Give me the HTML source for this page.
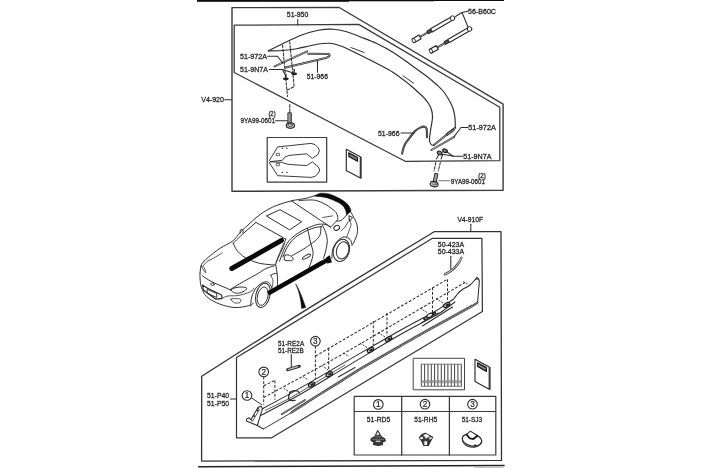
<!DOCTYPE html>
<html><head><meta charset="utf-8"><title>Parts diagram</title>
<style>
html,body{margin:0;padding:0;background:#fff;}
body{width:702px;height:468px;overflow:hidden;}
svg{display:block;font-family:"Liberation Sans",sans-serif;filter:grayscale(1) blur(0.35px);}
</style></head><body>
<svg width="702" height="468" viewBox="0 0 702 468" stroke-linecap="round" stroke-linejoin="round">
<rect width="702" height="468" fill="#fff"/>
<rect x="197" y="0" width="152" height="1.8" fill="#0c0c0c"/>
<rect x="349" y="0" width="85" height="1.3" fill="#0c0c0c"/>
<rect x="434" y="0" width="70" height="1.0" fill="#0c0c0c"/>
<line x1="198.2" y1="466.7" x2="504.6" y2="465.5" stroke="#222" stroke-width="1.4" stroke-linecap="butt"/>
<rect x="474" y="467.3" width="29" height="0.7" fill="#aaa"/>
<path d="M232.0,7.6 L339.2,7.5 L503.1,104.2 L503.1,190.2 L232.0,191.3Z" fill="none" stroke="#3a3a3a" stroke-width="1.4" />
<path d="M234.2,25.2 L358.7,24.4 L499.8,107.2 L499.8,160.7 L405.2,161.3 L234.2,72.5Z" fill="none" stroke="#3a3a3a" stroke-width="1.26" />
<text x="286.8" y="16.9" font-size="7.6" textLength="21.5" lengthAdjust="spacingAndGlyphs" fill="#222" stroke="#222" stroke-width="0.28" >51-950</text>
<line x1="297.7" y1="19.5" x2="297.7" y2="24.8" stroke="#2b2b2b" stroke-width="1.03" />
<text x="201.2" y="102.2" font-size="7.6" textLength="22.8" lengthAdjust="spacingAndGlyphs" fill="#222" stroke="#222" stroke-width="0.28" >V4-920</text>
<line x1="224.6" y1="99.8" x2="231.5" y2="99.8" stroke="#2b2b2b" stroke-width="1.03" />
<text x="240.1" y="58.7" font-size="7.6" textLength="26.9" lengthAdjust="spacingAndGlyphs" fill="#222" stroke="#222" stroke-width="0.28" >51-972A</text>
<text x="240.1" y="71.7" font-size="7.6" textLength="27.8" lengthAdjust="spacingAndGlyphs" fill="#222" stroke="#222" stroke-width="0.28" >51-9N7A</text>
<text x="306.7" y="78.6" font-size="7.6" textLength="21.3" lengthAdjust="spacingAndGlyphs" fill="#222" stroke="#222" stroke-width="0.28" >51-966</text>
<text x="468.0" y="13.6" font-size="7.6" textLength="28.0" lengthAdjust="spacingAndGlyphs" fill="#222" stroke="#222" stroke-width="0.28" >56-B60C</text>
<text x="240.6" y="123.2" font-size="7.6" textLength="34.4" lengthAdjust="spacingAndGlyphs" fill="#222" stroke="#222" stroke-width="0.28" >9YA99-0601</text>
<text x="268.4" y="116.3" font-size="7" textLength="7.2" lengthAdjust="spacingAndGlyphs" fill="#222" stroke="#222" stroke-width="0.28" >(2)</text>
<text x="378.0" y="135.6" font-size="7.6" textLength="21.5" lengthAdjust="spacingAndGlyphs" fill="#222" stroke="#222" stroke-width="0.28" >51-966</text>
<text x="468.3" y="130.1" font-size="7.6" textLength="27.5" lengthAdjust="spacingAndGlyphs" fill="#222" stroke="#222" stroke-width="0.28" >51-972A</text>
<text x="463.3" y="158.6" font-size="7.6" textLength="28.2" lengthAdjust="spacingAndGlyphs" fill="#222" stroke="#222" stroke-width="0.28" >51-9N7A</text>
<text x="450.8" y="183.6" font-size="7.6" textLength="34.2" lengthAdjust="spacingAndGlyphs" fill="#222" stroke="#222" stroke-width="0.28" >9YA99-0601</text>
<text x="478.3" y="177.7" font-size="7" textLength="7.5" lengthAdjust="spacingAndGlyphs" fill="#222" stroke="#222" stroke-width="0.28" >(2)</text>
<path d="M268.3,50.8 C270.5,49.7 276.1,46.8 281.7,44.2 C287.3,41.6 295.6,37.3 301.7,35.0 C307.8,32.7 313.0,31.3 318.3,30.3 C323.6,29.3 328.6,29.0 333.3,29.2 C338.0,29.4 342.2,30.4 346.7,31.7 C351.1,33.0 355.0,34.7 360.0,36.7 C365.0,38.7 371.1,40.9 376.7,43.5 C382.2,46.1 387.8,49.0 393.3,52.5 C398.9,56.0 404.4,60.2 410.0,64.2 C415.6,68.2 422.2,72.9 426.7,76.3 C431.1,79.7 433.9,82.3 436.7,84.8 C439.5,87.3 441.3,88.8 443.5,91.5 C445.7,94.2 448.1,98.4 449.7,101.3 C451.3,104.2 452.3,106.2 453.2,109.0 C454.1,111.8 454.6,114.9 455.0,118.0 C455.4,121.1 455.2,126.2 455.3,127.8" fill="none" stroke="#2b2b2b" stroke-width="1.15" />
<path d="M268.3,51.0 C270.5,50.9 277.0,50.9 281.7,50.5 C286.4,50.1 292.0,49.5 296.7,48.7 C301.4,47.9 306.1,46.6 310.0,45.8 C313.9,45.0 316.7,44.2 320.0,43.8 C323.3,43.4 326.7,43.0 330.0,43.3 C333.3,43.6 336.1,44.4 340.0,45.8 C343.9,47.2 348.9,49.6 353.3,51.7 C357.8,53.8 362.8,56.3 366.7,58.3 C370.6,60.3 372.6,61.1 377.0,63.5 C381.4,65.9 387.8,68.9 393.3,72.5 C398.8,76.1 405.8,81.7 410.0,85.0 C414.2,88.3 415.8,90.2 418.3,92.5 C420.8,94.8 423.0,96.4 425.0,98.8 C427.0,101.2 429.2,104.0 430.5,107.0 C431.8,110.0 432.5,112.9 432.5,116.7 C432.5,120.5 431.1,126.2 430.6,130.0 C430.1,133.8 429.3,137.4 429.4,139.8 C429.5,142.2 430.4,143.6 431.1,144.5 C431.8,145.4 433.3,145.2 433.7,145.3" fill="none" stroke="#2b2b2b" stroke-width="1.15" />
<line x1="433.7" y1="145.3" x2="455.2" y2="127.8" stroke="#333" stroke-width="2.0" />
<line x1="434.5" y1="144.8" x2="454.6" y2="128.4" stroke="#bbb" stroke-width="0.8" stroke-dasharray="0.8 0.8"/>
<path d="M446.5,133.4 L453.3,128.6 L454.3,130.4 L447.5,135.4Z" fill="none" stroke="#2b2b2b" stroke-width="0.92" />
<line x1="350.8" y1="47.5" x2="364.2" y2="52.5" stroke="#2b2b2b" stroke-width="0.92" />
<line x1="403.0" y1="75.8" x2="413.7" y2="83.3" stroke="#2b2b2b" stroke-width="0.92" />
<line x1="274.5" y1="66.3" x2="307.2" y2="51.4" stroke="#333" stroke-width="2.0" />
<line x1="275.0" y1="66.0" x2="306.8" y2="51.6" stroke="#ccc" stroke-width="0.8" stroke-dasharray="0.9 0.9"/>
<path d="M285.8,67.6 L324.5,58.2 Q331.5,56.2 328.8,54 L308.3,53.8" fill="none" stroke="#262626" stroke-width="2.1" />
<path d="M285.8,67.6 L324.5,58.2 Q331.5,56.2 328.8,54 L308.3,53.8" fill="none" stroke="#ddd" stroke-width="0.6" />
<line x1="282.5" y1="45.0" x2="287.5" y2="96.5" stroke="#2b2b2b" stroke-width="1.03" stroke-dasharray="2.6 1.6"/>
<line x1="289.7" y1="41.7" x2="294.2" y2="86.7" stroke="#2b2b2b" stroke-width="1.03" stroke-dasharray="2.6 1.6"/>
<line x1="287.3" y1="90.0" x2="294.2" y2="86.7" stroke="#2b2b2b" stroke-width="1.03" stroke-dasharray="2.6 1.6"/>
<ellipse cx="285.8" cy="78.8" rx="3.0" ry="1.4" fill="#1a1a1a"/>
<line x1="285.8" y1="74.3" x2="285.8" y2="78.3" stroke="#2b2b2b" stroke-width="1.3" />
<ellipse cx="294.2" cy="73.8" rx="3.0" ry="1.4" fill="#1a1a1a"/>
<line x1="294.2" y1="69.3" x2="294.2" y2="73.3" stroke="#2b2b2b" stroke-width="1.3" />
<path d="M267.6,56.2 L277.5,56.2 L282.5,62.8" fill="none" stroke="#2b2b2b" stroke-width="1.03" />
<path d="M269.3,69.4 L282.5,69.4 L286.0,76.5" fill="none" stroke="#2b2b2b" stroke-width="1.03" />
<line x1="282.5" y1="69.4" x2="292.5" y2="72.8" stroke="#2b2b2b" stroke-width="1.03" />
<line x1="317.5" y1="60.8" x2="317.5" y2="72.3" stroke="#2b2b2b" stroke-width="1.03" />
<line x1="289.8" y1="104.5" x2="289.8" y2="112.2" stroke="#2b2b2b" stroke-width="1.03" stroke-dasharray="3 1.5"/>
<rect x="288.3" y="112.8" width="3" height="10.5" fill="#999" stroke="#2b2b2b" stroke-width="1.0"/>
<ellipse cx="290.4" cy="125.6" rx="4.1" ry="2.7" fill="#ddd" stroke="#2b2b2b" stroke-width="1.2"/>
<ellipse cx="290.2" cy="125.3" rx="2.2" ry="1.3" fill="none" stroke="#2b2b2b" stroke-width="0.8"/>
<line x1="275.5" y1="120.8" x2="287.8" y2="120.8" stroke="#2b2b2b" stroke-width="1.03" />
<line x1="431.5" y1="150.0" x2="454.2" y2="136.8" stroke="#333" stroke-width="2.0" />
<line x1="432.0" y1="149.7" x2="453.8" y2="137.0" stroke="#ccc" stroke-width="0.8" stroke-dasharray="0.9 0.9"/>
<path d="M402.1,153.6 C402.5,152.2 403.2,147.8 404.6,145.1 C406.0,142.3 408.4,139.4 410.2,137.1 C412.0,134.8 413.5,132.7 415.2,131.1 C416.9,129.5 418.6,128.3 420.2,127.6 C421.8,126.9 423.6,126.5 424.7,126.7 C425.8,126.9 426.2,127.1 426.6,128.8 C427.0,130.5 426.9,135.7 427.0,137.1" fill="none" stroke="#262626" stroke-width="2.1" />
<path d="M402.1,153.6 C402.5,152.2 403.2,147.8 404.6,145.1 C406.0,142.3 408.4,139.4 410.2,137.1 C412.0,134.8 413.5,132.7 415.2,131.1 C416.9,129.5 418.6,128.3 420.2,127.6 C421.8,126.9 423.6,126.5 424.7,126.7 C425.8,126.9 426.2,127.1 426.6,128.8 C427.0,130.5 426.9,135.7 427.0,137.1" fill="none" stroke="#bbb" stroke-width="0.5" />
<line x1="401.0" y1="133.0" x2="414.0" y2="133.0" stroke="#2b2b2b" stroke-width="1.03" />
<path d="M468.0,127.5 L461.0,127.5 L454.2,136.4" fill="none" stroke="#2b2b2b" stroke-width="1.03" />
<ellipse cx="439.7" cy="153.0" rx="2.5" ry="1.7" transform="rotate(25 439.7 153.0)" fill="#888" stroke="#1a1a1a" stroke-width="1.1"/>
<ellipse cx="445.0" cy="150.8" rx="2.5" ry="1.7" transform="rotate(25 445.0 150.8)" fill="#888" stroke="#1a1a1a" stroke-width="1.1"/>
<path d="M463.0,156.2 L453.3,156.2 L446.0,151.5" fill="none" stroke="#2b2b2b" stroke-width="1.03" />
<line x1="453.3" y1="156.2" x2="441.0" y2="154.0" stroke="#2b2b2b" stroke-width="1.03" />
<line x1="438.5" y1="155.0" x2="436.5" y2="159.0" stroke="#2b2b2b" stroke-width="1.03" />
<line x1="442.5" y1="155.0" x2="441.0" y2="159.0" stroke="#2b2b2b" stroke-width="1.03" />
<line x1="435.8" y1="162.5" x2="434.0" y2="171.0" stroke="#2b2b2b" stroke-width="1.03" stroke-dasharray="2.6 1.6"/>
<line x1="440.3" y1="162.5" x2="438.3" y2="171.0" stroke="#2b2b2b" stroke-width="1.03" stroke-dasharray="2.6 1.6"/>
<g transform="rotate(12 435.5 178)"><rect x="434" y="173.5" width="3" height="9" fill="#aaa" stroke="#2b2b2b" stroke-width="1.0"/><ellipse cx="435.5" cy="184.3" rx="4" ry="2.6" fill="#ddd" stroke="#2b2b2b" stroke-width="1.2"/><ellipse cx="435.5" cy="184" rx="2" ry="1.2" fill="none" stroke="#2b2b2b" stroke-width="0.7"/></g>
<line x1="438.7" y1="180.8" x2="450.0" y2="180.8" stroke="#777" stroke-width="1.03" />
<line x1="419.6" y1="37.1" x2="429.3" y2="31.5" stroke="#333" stroke-width="2.0" />
<line x1="419.6" y1="37.1" x2="429.3" y2="31.5" stroke="#ccc" stroke-width="0.6" />
<path d="M412.1,39.0 L419.0,35.0 L421.1,38.7 L414.2,42.7Z" fill="#fff" stroke="#2b2b2b" stroke-width="1.26" />
<ellipse cx="413.7" cy="40.5" rx="1.5" ry="2.1" transform="rotate(-29.9 413.7 40.5)" fill="#fff" stroke="#2b2b2b" stroke-width="0.9"/>
<path d="M426.9,31.2 L430.7,29.0 L432.2,31.6 L428.4,33.8Z" fill="#555" stroke="#2b2b2b" stroke-width="1.03" />
<path d="M430.5,28.8 L451.5,16.8 L453.3,19.8 L432.3,31.9Z" fill="#fff" stroke="#2b2b2b" stroke-width="1.15" />
<ellipse cx="452.6" cy="18.2" rx="2.2" ry="2.4" fill="#fff" stroke="#2b2b2b" stroke-width="1.0"/>
<line x1="436.9" y1="47.6" x2="446.5" y2="42.2" stroke="#333" stroke-width="2.0" />
<line x1="436.9" y1="47.6" x2="446.5" y2="42.2" stroke="#ccc" stroke-width="0.6" />
<path d="M429.3,49.5 L436.2,45.6 L438.3,49.2 L431.4,53.2Z" fill="#fff" stroke="#2b2b2b" stroke-width="1.26" />
<ellipse cx="430.9" cy="51.0" rx="1.5" ry="2.1" transform="rotate(-29.7 430.9 51.0)" fill="#fff" stroke="#2b2b2b" stroke-width="0.9"/>
<path d="M444.1,41.8 L447.8,39.7 L449.3,42.3 L445.5,44.4Z" fill="#555" stroke="#2b2b2b" stroke-width="1.03" />
<path d="M447.7,39.5 L468.5,27.6 L470.3,30.6 L449.4,42.5Z" fill="#fff" stroke="#2b2b2b" stroke-width="1.15" />
<ellipse cx="469.6" cy="29.0" rx="2.2" ry="2.4" fill="#fff" stroke="#2b2b2b" stroke-width="1.0"/>
<path d="M468.0,11.2 L462.0,12.5 L455.5,16.5" fill="none" stroke="#2b2b2b" stroke-width="1.03" />
<line x1="462.0" y1="12.5" x2="468.0" y2="27.0" stroke="#2b2b2b" stroke-width="1.03" />
<rect x="267.2" y="137.5" width="59.5" height="44.6" fill="none" stroke="#3a3a3a" stroke-width="1.2"/>
<path d="M269.6,160.0 L277.7,146.9 L311.1,143.4 L315.0,144.6 L318.2,147.8 L319.4,150.8 L318.0,154.5 L312.3,158.4 L306.5,153.8 L289.2,155.4 L285.0,157.0 L282.3,160.3 L270.7,161.6Z" fill="none" stroke="#2b2b2b" stroke-width="0.92" />
<path d="M269.6,163.1 L277.7,175.7 L311.1,177.4 L315.0,176.4 L318.4,173.2 L319.8,170.0 L318.0,166.5 L312.3,161.9 L306.5,165.6 L289.2,164.4 L285.0,163.6 L282.3,162.4 L270.7,161.8Z" fill="none" stroke="#2b2b2b" stroke-width="0.92" />
<circle cx="282.3" cy="148.2" r="0.7" fill="#222"/>
<circle cx="286.9" cy="148.2" r="0.7" fill="#222"/>
<circle cx="282.3" cy="172.4" r="0.7" fill="#222"/>
<circle cx="286.9" cy="172.4" r="0.7" fill="#222"/>
<rect x="276.6" y="153.3" width="2.8" height="2.4" fill="none" stroke="#2b2b2b" stroke-width="0.7"/>
<rect x="276.6" y="163.4" width="2.8" height="2.4" fill="none" stroke="#2b2b2b" stroke-width="0.7"/>
<path d="M346.3,149.2 L360.3,156.7 L360.3,177.9 L346.3,170.4Z" fill="none" stroke="#2b2b2b" stroke-width="1.15" />
<line x1="361.1" y1="157.2" x2="361.1" y2="178.2" stroke="#2b2b2b" stroke-width="1.15" />
<path d="M348.8,152.7 L357.5,157.4 L357.5,161.2 L348.8,156.5Z" fill="#555" stroke="#1a1a1a" stroke-width="1.15" />
<line x1="349.8" y1="155.2" x2="356.5" y2="158.8" stroke="#ddd" stroke-width="0.5" />
<path d="M200.0,273.3 C200.2,272.1 200.4,267.9 201.0,266.0 C201.6,264.1 202.1,263.4 203.3,262.0 C204.5,260.6 205.5,259.6 208.3,257.3 C211.1,255.0 215.9,251.0 220.0,248.3 C224.1,245.6 229.3,243.7 232.7,241.0 C236.1,238.3 237.4,235.3 240.4,232.2 C243.4,229.1 247.0,225.8 250.6,222.6 C254.2,219.4 257.9,215.8 262.2,213.0 C266.5,210.2 271.4,207.5 276.3,205.5 C281.2,203.5 286.9,202.0 291.7,200.8 C296.5,199.6 301.2,199.3 305.0,198.5 C308.8,197.7 312.7,196.3 314.2,195.9" fill="none" stroke="#2b2b2b" stroke-width="0.98" />
<path d="M240.2,233.2 C240.2,232.7 240.0,230.8 240.3,230.2 C240.6,229.6 241.5,229.2 242.0,229.4 C242.5,229.6 243.2,230.6 243.3,231.2 C243.4,231.8 242.7,232.7 242.6,233.0" fill="none" stroke="#2b2b2b" stroke-width="0.98" />
<path d="M255.8,222.3 L285.8,239.1" fill="none" stroke="#2b2b2b" stroke-width="0.98" />
<path d="M255.8,222.5 C254.0,224.1 248.2,229.1 245.0,232.0 C241.8,234.9 238.4,238.1 236.5,240.0 C234.6,241.9 233.8,242.8 233.3,243.3" fill="none" stroke="#2b2b2b" stroke-width="0.98" />
<path d="M233.3,243.3 C233.9,244.4 234.8,247.6 236.7,250.0 C238.6,252.4 241.4,255.3 245.0,257.5 C248.6,259.7 253.9,261.8 258.3,263.0 C262.8,264.2 268.9,264.5 271.7,264.8 C274.5,265.1 274.4,264.6 275.0,264.6" fill="none" stroke="#2b2b2b" stroke-width="0.98" />
<path d="M285.8,239.1 C285.3,240.5 284.0,244.7 282.8,247.7 C281.6,250.7 279.8,254.0 278.5,257.0 C277.2,260.0 275.7,264.2 275.1,265.6" fill="none" stroke="#2b2b2b" stroke-width="0.98" />
<path d="M283.7,243.4 C283.0,245.1 280.7,250.5 279.4,253.6 C278.1,256.7 276.6,260.8 276.0,262.2" fill="none" stroke="#2b2b2b" stroke-width="0.8" />
<path d="M279.4,261.3 C279.7,260.6 280.4,258.9 281.1,257.0 C281.8,255.2 282.7,252.5 283.7,250.2 C284.7,247.9 285.8,245.4 287.1,243.4 C288.4,241.4 289.5,240.0 291.4,238.3 C293.2,236.6 295.8,234.7 298.2,233.1 C300.6,231.5 303.0,230.1 306.0,228.7 C309.0,227.3 313.4,225.7 316.0,224.9 C318.6,224.1 319.7,224.2 321.4,224.1 C323.1,224.0 324.5,224.1 326.0,224.6 C327.5,225.1 329.8,226.6 330.5,227.0" fill="none" stroke="#2b2b2b" stroke-width="0.98" />
<path d="M282.8,257.0 C283.2,256.0 284.4,253.1 285.4,251.0 C286.4,248.9 287.5,246.6 288.8,244.7 C290.1,242.8 291.3,241.2 293.0,239.5 C294.7,237.8 296.8,236.2 299.0,234.8 C301.2,233.4 303.8,232.1 306.0,231.0 C308.2,229.9 310.0,229.2 312.0,228.5 C314.0,227.8 316.4,227.3 318.0,227.0 C319.6,226.7 321.1,226.8 321.7,226.7" fill="none" stroke="#2b2b2b" stroke-width="0.98" />
<path d="M291.8,255.8 C293.7,254.7 300.2,251.1 303.3,249.2 C306.4,247.3 308.4,245.9 310.7,244.2 C313.0,242.5 315.5,240.8 317.1,239.1 C318.7,237.4 319.8,235.9 320.4,233.8 C321.0,231.7 320.8,227.7 320.9,226.5" fill="none" stroke="#2b2b2b" stroke-width="0.98" />
<path d="M307.5,228.4 C307.8,229.7 308.6,233.4 309.1,235.9 C309.6,238.4 310.1,240.9 310.7,243.4 C311.3,245.9 312.6,248.3 312.9,250.8 C313.2,253.3 313.0,255.3 312.3,258.3 C311.6,261.3 309.2,267.2 308.6,269.0" fill="none" stroke="#2b2b2b" stroke-width="0.98" />
<path d="M322.5,225.2 C323.0,226.4 324.9,230.2 325.7,232.7 C326.5,235.2 327.2,237.5 327.3,240.2 C327.4,242.9 326.8,245.7 326.2,248.7 C325.6,251.7 324.0,256.7 323.6,258.3" fill="none" stroke="#2b2b2b" stroke-width="0.98" />
<path d="M285.0,255.4 C285.6,254.6 287.1,254.9 288.0,255.0 C288.9,255.1 289.7,255.2 290.5,255.8 C291.3,256.4 292.7,257.5 293.0,258.3 C293.3,259.1 293.0,260.1 292.2,260.5 C291.4,260.9 289.3,260.7 288.0,260.6 C286.7,260.5 285.0,260.9 284.5,260.0 C284.0,259.1 284.4,256.2 285.0,255.4Z" fill="#fff" stroke="#2b2b2b" stroke-width="0.98" />
<ellipse cx="306.5" cy="256.6" rx="4.5" ry="1.4" transform="rotate(-29 306.5 256.6)" fill="none" stroke="#2b2b2b" stroke-width="0.98"/>
<path d="M266.7,215.8 L280.0,209.7 L301.7,221.7 L290.0,229.7Z" fill="none" stroke="#2b2b2b" stroke-width="0.98" />
<path d="M291.5,200.9 L330.5,227.0" fill="none" stroke="#2b2b2b" stroke-width="0.98" />
<path d="M299.0,200.6 C300.5,200.5 305.1,200.0 308.0,200.0 C310.9,200.0 313.6,199.8 316.4,200.5 C319.2,201.2 322.3,202.6 324.9,204.0 C327.5,205.4 329.9,207.3 331.8,208.7 C333.7,210.1 335.0,211.2 336.0,212.5 C337.0,213.8 337.6,215.5 337.7,216.8 C337.8,218.2 338.1,218.9 336.9,220.6 C335.7,222.3 331.6,225.9 330.5,227.0" fill="none" stroke="#2b2b2b" stroke-width="0.98" />
<line x1="322.8" y1="217.5" x2="332.6" y2="215.9" stroke="#2b2b2b" stroke-width="0.8" />
<path d="M336.9,221.0 C337.6,220.9 339.6,221.3 341.2,220.4 C342.8,219.5 345.4,216.2 346.3,215.3" fill="none" stroke="#2b2b2b" stroke-width="0.98" />
<path d="M350.5,211.5 C351.0,212.4 352.5,215.0 353.6,217.2 C354.7,219.4 356.4,222.2 357.0,224.9 C357.6,227.6 357.7,230.7 357.2,233.5 C356.7,236.3 354.9,240.0 354.0,242.0 C353.1,244.0 352.2,244.8 351.9,245.4" fill="none" stroke="#2b2b2b" stroke-width="0.98" />
<path d="M348.5,218.9 C348.9,219.8 350.9,222.2 351.0,224.0 C351.1,225.8 350.0,227.8 349.3,230.0 C348.6,232.2 347.2,235.8 346.8,236.9" fill="none" stroke="#2b2b2b" stroke-width="0.8" />
<path d="M349.2,215.8 L352.5,217.5 L350.0,221.0Z" fill="none" stroke="#2b2b2b" stroke-width="0.98" />
<path d="M341.0,231.0 C341.7,230.3 343.8,228.6 345.0,227.0 C346.2,225.4 347.7,222.4 348.2,221.5" fill="none" stroke="#2b2b2b" stroke-width="0.8" />
<ellipse cx="336.7" cy="227.9" rx="3.0" ry="2.3" transform="rotate(-25 336.7 227.9)" fill="none" stroke="#2b2b2b" stroke-width="0.98"/>
<path d="M351.9,244.5 C351.6,243.7 351.5,240.9 350.2,239.6 C348.9,238.3 346.2,236.8 344.2,236.9 C342.2,237.0 340.0,238.6 338.2,240.3 C336.4,242.0 334.6,244.9 333.6,247.0 C332.6,249.1 332.5,251.1 332.2,253.0 C331.9,254.9 332.0,257.5 332.0,258.4" fill="none" stroke="#2b2b2b" stroke-width="0.98" />
<ellipse cx="341.4" cy="250.4" rx="7.9" ry="11.3" transform="rotate(16 341.4 250.4)" fill="none" stroke="#2b2b2b" stroke-width="0.98"/>
<ellipse cx="342.6" cy="250.4" rx="6.0" ry="8.7" transform="rotate(16 342.6 250.4)" fill="none" stroke="#2b2b2b" stroke-width="0.98"/>
<path d="M277.5,286.7 L321.7,260.8" fill="none" stroke="#2b2b2b" stroke-width="0.98" />
<path d="M273.8,266.0 C272.5,266.4 268.6,267.3 266.0,268.5 C263.4,269.7 262.1,271.1 258.3,273.3 C254.5,275.5 247.9,279.1 243.3,281.7 C238.7,284.3 232.9,287.9 230.8,289.2" fill="none" stroke="#2b2b2b" stroke-width="0.98" />
<path d="M203.3,266.0 C203.9,265.2 205.3,262.8 207.0,261.5 C208.7,260.2 210.8,259.7 213.3,258.3 C215.8,256.9 220.6,253.9 222.0,253.0" fill="none" stroke="#2b2b2b" stroke-width="0.8" />
<path d="M202.5,275.8 C204.0,276.8 207.9,279.8 211.7,281.7 C215.4,283.6 221.8,286.1 225.0,287.5 C228.2,288.9 229.8,289.6 230.8,290.0" fill="none" stroke="#2b2b2b" stroke-width="0.98" />
<path d="M201.2,266.0 C201.1,266.4 202.7,268.9 203.5,270.0 C204.3,271.1 205.7,273.2 205.8,272.8 C205.9,272.4 204.8,268.6 204.0,267.5 C203.2,266.4 201.3,265.6 201.2,266.0Z" fill="none" stroke="#2b2b2b" stroke-width="0.8" />
<path d="M202.5,285.0 L207.5,288.3 L221.7,295.0 L221.9,298.5 L215.8,299.2 L203.3,290.0Z" fill="none" stroke="#2b2b2b" stroke-width="1.26" />
<path d="M207.5,289.4 L216.7,293.5 L216.7,297.5 L207.5,293.3Z" fill="none" stroke="#2b2b2b" stroke-width="0.92" />
<ellipse cx="212.5" cy="284.2" rx="1.9" ry="1.2" transform="rotate(15 212.5 284.2)" fill="none" stroke="#2b2b2b" stroke-width="0.8"/>
<path d="M230.8,290.0 C230.8,289.1 234.1,288.1 236.0,287.6 C237.9,287.1 240.2,286.9 242.0,287.0 C243.8,287.1 246.5,287.5 246.7,288.3 C246.9,289.1 244.8,291.0 243.0,291.8 C241.2,292.6 238.0,293.5 236.0,293.2 C234.0,292.9 230.8,290.9 230.8,290.0Z" fill="none" stroke="#2b2b2b" stroke-width="0.98" />
<path d="M230.8,299.2 C231.1,298.5 234.4,298.6 236.0,298.6 C237.6,298.6 239.6,298.6 240.3,299.2 C241.0,299.8 241.0,301.9 240.0,302.5 C239.0,303.1 236.0,303.4 234.5,302.8 C233.0,302.2 230.6,299.9 230.8,299.2Z" fill="none" stroke="#2b2b2b" stroke-width="0.8" />
<path d="M200.0,273.3 C200.0,274.4 199.9,277.6 200.2,280.0 C200.4,282.4 200.4,284.7 201.5,287.5 C202.6,290.3 203.6,293.9 206.7,296.7 C209.8,299.5 215.3,302.4 220.0,304.2 C224.7,306.0 230.3,307.2 235.0,307.5 C239.7,307.8 245.2,306.5 248.3,305.8 C251.4,305.1 252.5,303.7 253.3,303.3" fill="none" stroke="#2b2b2b" stroke-width="0.98" />
<path d="M221.9,298.3 C222.9,297.9 225.3,296.5 228.0,296.0 C230.7,295.5 234.3,296.2 238.0,295.5 C241.7,294.8 247.3,293.2 250.0,292.0 C252.7,290.8 253.3,288.7 254.0,288.0" fill="none" stroke="#2b2b2b" stroke-width="0.8" />
<path d="M250.7,306.0 C250.9,304.5 250.8,300.0 251.7,297.0 C252.6,294.0 254.2,290.4 256.0,288.0 C257.8,285.6 260.4,283.8 262.4,282.8 C264.3,281.8 266.3,281.5 267.7,282.0 C269.1,282.5 270.3,284.6 271.0,285.8 C271.7,287.0 271.8,288.5 272.0,289.0" fill="none" stroke="#2b2b2b" stroke-width="0.98" />
<ellipse cx="262.9" cy="295.3" rx="7.0" ry="12.4" transform="rotate(14 262.9 295.3)" fill="none" stroke="#2b2b2b" stroke-width="0.98"/>
<ellipse cx="262.7" cy="296.2" rx="5.2" ry="9.4" transform="rotate(14 262.7 296.2)" fill="none" stroke="#2b2b2b" stroke-width="0.86"/>
<path d="M270.8,275.2 C271.2,275.0 272.5,274.1 273.5,273.8 C274.5,273.5 276.2,273.4 276.7,273.3" fill="none" stroke="#2b2b2b" stroke-width="0.98" />
<path d="M275.8,265.0 C276.1,266.7 277.0,271.4 277.3,275.0 C277.6,278.6 277.5,284.8 277.5,286.7" fill="none" stroke="#2b2b2b" stroke-width="0.98" />
<path d="M270.8,275.2 C271.2,276.2 272.8,278.9 273.0,281.0 C273.2,283.1 272.2,286.4 272.0,287.5" fill="none" stroke="#2b2b2b" stroke-width="0.8" />
<line x1="231.8" y1="268.5" x2="281.6" y2="240.4" stroke="#0a0a0a" stroke-width="4.9" />
<line x1="268.0" y1="293.5" x2="329.8" y2="258.7" stroke="#0a0a0a" stroke-width="4.4" stroke-linecap="butt"/>
<path d="M326.5,257.6 L329.6,255.6 L331.6,262.3 L327.5,263.2Z" fill="#0a0a0a" stroke="#0a0a0a" stroke-width="0.5" />
<path d="M314.2,195.9 C316.5,194.8 318.5,193.6 320.6,193.2 C323.5,193 326.5,193.3 329.2,194 C332,194.9 335,196.2 337.7,197.6 C341,199.2 344,201 346.3,203.1 C348,204.6 349.2,206 349.8,207.5 C350.6,208.8 351,210 351,211.3 L346.4,215.3 C346.4,213 346,211.5 345.4,209.9 C344.8,208.4 344,207 342.9,205.7 C341,203.8 338.5,202.5 336,201.4 C333.5,200.2 330.5,199 327.5,198 C325,197.3 322.8,196.9 320.6,196.7 C318.4,196.6 316.2,196.5 314.2,195.9Z" fill="#0a0a0a" stroke="#0a0a0a" stroke-width="0.5" />
<path d="M295.8,284.2 C299,289 301.8,296 305.8,307.6 L301.6,308.4 C301,299 299,291 295.8,284.2Z" fill="#0a0a0a" stroke="#0a0a0a" stroke-width="0.5" />
<path d="M201.7,376.3 L290.0,319.9 L330.0,295.1 L434.2,231.7 L501.0,231.7 L501.5,460.4 L201.6,461.1Z" fill="none" stroke="#333" stroke-width="1.31" />
<path d="M236.5,357.5 L432.5,238.3 L481.9,238.3 L482.4,311.6 L271.6,437.8 L236.5,437.8Z" fill="none" stroke="#333" stroke-width="1.21" />
<text x="457.4" y="222.2" font-size="7.6" textLength="25.7" lengthAdjust="spacingAndGlyphs" fill="#222" stroke="#222" stroke-width="0.28" >V4-910F</text>
<line x1="470.8" y1="224.3" x2="470.8" y2="231.5" stroke="#2b2b2b" stroke-width="1.03" />
<text x="437.8" y="247.2" font-size="7.6" textLength="26.3" lengthAdjust="spacingAndGlyphs" fill="#222" stroke="#222" stroke-width="0.28" >50-423A</text>
<text x="437.8" y="254.3" font-size="7.6" textLength="26.3" lengthAdjust="spacingAndGlyphs" fill="#222" stroke="#222" stroke-width="0.28" >50-433A</text>
<line x1="450.8" y1="256.3" x2="450.8" y2="269.3" stroke="#2b2b2b" stroke-width="1.03" />
<path d="M445.0,274.3 C446.2,273.6 450.2,271.7 452.5,269.8 C454.8,267.9 457.1,265.0 458.6,263.0 C460.1,261.0 460.9,258.7 461.4,257.8" fill="none" stroke="#333" stroke-width="2.3" />
<path d="M445.0,274.3 C446.2,273.6 450.2,271.7 452.5,269.8 C454.8,267.9 457.1,265.0 458.6,263.0 C460.1,261.0 460.9,258.7 461.4,257.8" fill="none" stroke="#fff" stroke-width="0.92" />
<text x="278.0" y="346.0" font-size="7.6" textLength="26.2" lengthAdjust="spacingAndGlyphs" fill="#222" stroke="#222" stroke-width="0.28" >51-RE2A</text>
<text x="278.0" y="353.3" font-size="7.6" textLength="25.8" lengthAdjust="spacingAndGlyphs" fill="#222" stroke="#222" stroke-width="0.28" >51-RE2B</text>
<line x1="291.3" y1="354.6" x2="291.3" y2="368.0" stroke="#2b2b2b" stroke-width="1.03" />
<line x1="287.6" y1="369.8" x2="299.3" y2="366.2" stroke="#2a2a2a" stroke-width="3.0" />
<line x1="288.3" y1="369.6" x2="298.6" y2="366.4" stroke="#bbb" stroke-width="1.38" stroke-dasharray="1 0.8"/>
<text x="207.0" y="398.1" font-size="7.6" textLength="22.2" lengthAdjust="spacingAndGlyphs" fill="#222" stroke="#222" stroke-width="0.28" >51-P40</text>
<text x="207.0" y="405.6" font-size="7.6" textLength="22.2" lengthAdjust="spacingAndGlyphs" fill="#222" stroke="#222" stroke-width="0.28" >51-P50</text>
<line x1="230.3" y1="399.1" x2="236.3" y2="399.1" stroke="#2b2b2b" stroke-width="1.03" />
<circle cx="247.0" cy="395.5" r="4.8" fill="#fff" stroke="#2b2b2b" stroke-width="1.1"/>
<text x="247.0" y="398.4" font-size="8.2" text-anchor="middle" fill="#222" stroke="#222" stroke-width="0.2">1</text>
<circle cx="263.7" cy="371.9" r="4.8" fill="#fff" stroke="#2b2b2b" stroke-width="1.1"/>
<text x="263.7" y="374.8" font-size="8.2" text-anchor="middle" fill="#222" stroke="#222" stroke-width="0.2">2</text>
<circle cx="315.4" cy="341.2" r="4.8" fill="#fff" stroke="#2b2b2b" stroke-width="1.1"/>
<text x="315.4" y="344.1" font-size="8.2" text-anchor="middle" fill="#222" stroke="#222" stroke-width="0.2">3</text>
<rect x="354.2" y="396.3" width="141.6" height="58.7" fill="#fff" stroke="#3a3a3a" stroke-width="1.2"/>
<line x1="354.2" y1="411.5" x2="495.8" y2="411.5" stroke="#3a3a3a" stroke-width="1.15" />
<line x1="401.7" y1="396.3" x2="401.7" y2="455.0" stroke="#3a3a3a" stroke-width="1.26" />
<line x1="449.4" y1="396.3" x2="449.4" y2="455.0" stroke="#3a3a3a" stroke-width="1.26" />
<circle cx="378.3" cy="404.4" r="4.8" fill="#fff" stroke="#2b2b2b" stroke-width="1.1"/>
<text x="378.3" y="407.3" font-size="8.2" text-anchor="middle" fill="#222" stroke="#222" stroke-width="0.2">1</text>
<circle cx="425.0" cy="404.2" r="4.8" fill="#fff" stroke="#2b2b2b" stroke-width="1.1"/>
<text x="425.0" y="407.1" font-size="8.2" text-anchor="middle" fill="#222" stroke="#222" stroke-width="0.2">2</text>
<circle cx="472.5" cy="404.2" r="4.8" fill="#fff" stroke="#2b2b2b" stroke-width="1.1"/>
<text x="472.5" y="407.1" font-size="8.2" text-anchor="middle" fill="#222" stroke="#222" stroke-width="0.2">3</text>
<text x="366.8" y="421.6" font-size="7.6" textLength="23.5" lengthAdjust="spacingAndGlyphs" fill="#222" stroke="#222" stroke-width="0.28" >51-RD5</text>
<text x="414.2" y="421.6" font-size="7.6" textLength="23.0" lengthAdjust="spacingAndGlyphs" fill="#222" stroke="#222" stroke-width="0.28" >51-RH5</text>
<text x="461.7" y="421.6" font-size="7.6" textLength="20.3" lengthAdjust="spacingAndGlyphs" fill="#222" stroke="#222" stroke-width="0.28" >51-SJ3</text>
<path d="M377.8,430.6 L379.6,433.5 L380.9,436.4 L384.9,438.8 L385.3,441 L382.3,442.2 L382.6,444.6 L378.4,445.6 L373.4,444.6 L374,442.2 L370.9,440.6 L371.2,438.4 L375,436.4 L376.2,433.5Z" fill="#3a3a3a" stroke="#1a1a1a" stroke-width="0.92" />
<path d="M377.8,432 L379.2,434.8 L376.6,434.8Z" fill="#fff" stroke="#fff" stroke-width="0.3" />
<rect x="375.8" y="440.7" width="4.6" height="1.1" fill="#eee"/>
<line x1="372.5" y1="439.3" x2="383.8" y2="439.3" stroke="#999" stroke-width="0.6" />
<line x1="375.5" y1="436.8" x2="380.6" y2="436.8" stroke="#aaa" stroke-width="0.5" />
<path d="M419.3,437.6 L422,434.5 L425.4,433.2 L432.6,437.3 L431,440.3 L428.3,445.6 L423.8,445.6 L421.8,441Z" fill="#3a3a3a" stroke="#1a1a1a" stroke-width="1.03" />
<path d="M423.6,434.9 L426.4,434 L429.6,436.3 L426,438.2Z" fill="#fff" stroke="#fff" stroke-width="0.3" />
<path d="M420,437.4 L422.6,437 L422.8,438.9 L420.6,438.9Z" fill="#fff" stroke="#fff" stroke-width="0.3" />
<path d="M429.6,437.6 L431.9,437.4 L431.3,439 L429.6,439.2Z" fill="#fff" stroke="#fff" stroke-width="0.3" />
<path d="M424.4,441.4 L427,441.4 L426.8,445 L424.6,445Z" fill="#fff" stroke="#fff" stroke-width="0.3" />
<ellipse cx="472.0" cy="439.9" rx="9.9" ry="6.0" transform="rotate(12 472.0 439.9)" fill="#fff" stroke="#2b2b2b" stroke-width="1.26"/>
<path d="M462.4,440.5 C463.5,445.5 470,447.8 475.5,447 C479.5,446.2 481.8,443 481.8,440.5" fill="none" stroke="#2b2b2b" stroke-width="1.03" />
<ellipse cx="475.2" cy="445.4" rx="1.5" ry="0.9" fill="#222"/>
<path d="M466.7,434.5 L470.3,431.1 L477.5,435.5 L473.4,439 L469.8,438.3Z" fill="#fff" stroke="#222" stroke-width="1.03" />
<path d="M466.7,434.7 L469.8,438.3 L473.4,439 L477.2,435.8" fill="none" stroke="#111" stroke-width="1.7" />
<rect x="413.6" y="358.3" width="50.9" height="31.5" fill="none" stroke="#444" stroke-width="1.0"/>
<line x1="421.3" y1="364.2" x2="421.3" y2="386.3" stroke="#333" stroke-width="0.92" stroke-linecap="butt"/>
<line x1="424.6" y1="364.2" x2="424.6" y2="386.3" stroke="#333" stroke-width="0.92" stroke-linecap="butt"/>
<line x1="428.0" y1="364.2" x2="428.0" y2="386.3" stroke="#333" stroke-width="0.92" stroke-linecap="butt"/>
<line x1="431.3" y1="364.2" x2="431.3" y2="386.3" stroke="#333" stroke-width="0.92" stroke-linecap="butt"/>
<line x1="434.6" y1="364.2" x2="434.6" y2="386.3" stroke="#333" stroke-width="0.92" stroke-linecap="butt"/>
<line x1="437.9" y1="364.2" x2="437.9" y2="386.3" stroke="#333" stroke-width="0.92" stroke-linecap="butt"/>
<line x1="441.3" y1="364.2" x2="441.3" y2="386.3" stroke="#333" stroke-width="0.92" stroke-linecap="butt"/>
<line x1="444.6" y1="364.2" x2="444.6" y2="386.3" stroke="#333" stroke-width="0.92" stroke-linecap="butt"/>
<line x1="447.9" y1="364.2" x2="447.9" y2="386.3" stroke="#333" stroke-width="0.92" stroke-linecap="butt"/>
<line x1="451.3" y1="364.2" x2="451.3" y2="386.3" stroke="#333" stroke-width="0.92" stroke-linecap="butt"/>
<line x1="454.6" y1="364.2" x2="454.6" y2="386.3" stroke="#333" stroke-width="0.92" stroke-linecap="butt"/>
<line x1="457.9" y1="364.2" x2="457.9" y2="386.3" stroke="#333" stroke-width="0.92" stroke-linecap="butt"/>
<line x1="461.3" y1="364.2" x2="461.3" y2="386.3" stroke="#333" stroke-width="0.92" stroke-linecap="butt"/>
<line x1="421.3" y1="364.2" x2="461.3" y2="364.2" stroke="#555" stroke-width="0.8" />
<line x1="421.3" y1="386.3" x2="461.3" y2="386.3" stroke="#555" stroke-width="0.8" />
<rect x="421.3" y="380.2" width="40" height="3" fill="#8a8a8a" fill-opacity="0.75"/>
<path d="M475.0,359.2 L489.2,367.0 L489.2,389.3 L475.0,381.5Z" fill="none" stroke="#2b2b2b" stroke-width="1.15" />
<line x1="490.0" y1="367.5" x2="490.0" y2="389.6" stroke="#2b2b2b" stroke-width="1.15" />
<path d="M477.6,362.8 L486.4,367.6 L486.4,371.4 L477.6,366.6Z" fill="#555" stroke="#1a1a1a" stroke-width="1.15" />
<line x1="478.6" y1="365.3" x2="485.4" y2="369.0" stroke="#ddd" stroke-width="0.5" />
<path d="M246.4,419.1 L249.0,417.8 L250.9,419.7 L258.0,407.6 L261.2,406.3 L262.4,408.8 L257.3,425.5 L246.4,421.0Z" fill="none" stroke="#2b2b2b" stroke-width="1.03" />
<path d="M258.0,407.6 L259.3,409.8 L252.3,421.5 L250.9,419.7" fill="none" stroke="#2b2b2b" stroke-width="0.8" />
<circle cx="257.6" cy="410.5" r="1.1" fill="#222"/>
<circle cx="254" cy="416" r="1.0" fill="#222"/>
<path d="M262.4,408.8 C268.7,405.4 286.2,395.9 300.0,388.1 C313.8,380.3 328.3,371.7 345.0,362.1 C361.7,352.5 385.0,338.9 400.0,330.5 C415.0,322.1 427.5,315.8 435.0,311.5 C442.5,307.2 442.0,306.7 445.0,304.7 C448.0,302.7 450.9,301.3 453.0,299.5 C455.1,297.7 456.1,295.6 457.5,294.0 C458.9,292.4 459.6,291.5 461.7,290.0 C463.8,288.5 467.8,286.7 470.0,285.0 C472.2,283.3 473.8,281.1 475.0,279.8 C476.2,278.6 476.7,277.9 477.0,277.5" fill="none" stroke="#2b2b2b" stroke-width="1.03" />
<path d="M261.2,415.2 C267.7,411.8 286.0,402.4 300.0,394.5 C314.0,386.6 328.3,377.6 345.0,367.6 C361.7,357.7 384.8,343.5 400.0,334.8 C415.2,326.1 428.3,319.7 436.0,315.3 C443.7,310.9 442.8,310.8 446.0,308.6 C449.2,306.4 453.5,303.1 455.0,302.0" fill="none" stroke="#2b2b2b" stroke-width="1.03" />
<path d="M265.6,410.2 C269.9,408.1 282.2,402.3 291.3,397.3 C300.4,392.3 311.1,385.4 320.0,380.0 C328.9,374.6 340.8,367.5 345.0,365.0" fill="none" stroke="#2b2b2b" stroke-width="0.8" />
<path d="M477.0,277.5 C477.4,277.9 478.9,278.1 479.2,280.2 C479.5,282.3 478.9,286.4 478.6,290.0 C478.3,293.6 477.8,300.0 477.6,302.0" fill="none" stroke="#2b2b2b" stroke-width="1.03" />
<path d="M475.3,279.6 C475.6,279.5 476.4,278.9 477.0,279.0 C477.6,279.1 478.7,279.9 479.0,280.1" fill="none" stroke="#2b2b2b" stroke-width="0.8" />
<path d="M257.3,425.5 L263.3,429.0" fill="none" stroke="#2b2b2b" stroke-width="1.03" />
<path d="M263.3,429.0 C268.0,426.3 280.2,419.4 291.3,412.6 C302.4,405.8 319.0,395.1 330.0,388.2 C341.0,381.3 350.4,375.3 357.1,371.2 C363.8,367.1 362.9,367.7 370.0,363.6 C377.1,359.5 392.8,350.5 400.0,346.4 C407.2,342.3 408.2,341.6 413.2,338.8 C418.2,336.0 420.5,334.6 430.0,329.4 C439.5,324.2 462.1,311.9 470.0,307.4 C477.9,302.9 476.2,303.4 477.5,302.6" fill="none" stroke="#2b2b2b" stroke-width="0.92" />
<path d="M291.3,412.6 C294.4,410.6 303.6,404.7 310.0,400.6 C316.4,396.5 322.1,393.1 330.0,388.2 C337.9,383.3 350.4,375.3 357.1,371.2 C363.8,367.1 362.9,367.7 370.0,363.6 C377.1,359.5 392.8,350.5 400.0,346.4 C407.2,342.3 408.2,341.6 413.2,338.8 C418.2,336.0 420.5,334.6 430.0,329.4 C439.5,324.2 462.1,311.9 470.0,307.4 C477.9,302.9 476.2,303.4 477.5,302.6" fill="none" stroke="#2e2e2e" stroke-width="2.0" />
<path d="M291.3,412.6 C294.4,410.6 303.6,404.7 310.0,400.6 C316.4,396.5 322.1,393.1 330.0,388.2 C337.9,383.3 350.4,375.3 357.1,371.2 C363.8,367.1 362.9,367.7 370.0,363.6 C377.1,359.5 392.8,350.5 400.0,346.4 C407.2,342.3 408.2,341.6 413.2,338.8 C418.2,336.0 420.5,334.6 430.0,329.4 C439.5,324.2 462.1,311.9 470.0,307.4 C477.9,302.9 476.2,303.4 477.5,302.6" fill="none" stroke="#bbb" stroke-width="0.8" stroke-dasharray="0.8 0.8"/>
<path d="M292.9,410.2 C299.4,406.1 320.6,392.7 331.6,385.8 C342.6,378.9 352.0,372.9 358.7,368.8 C365.4,364.7 364.5,365.3 371.6,361.2 C378.8,357.1 394.4,348.1 401.6,344.0 C408.8,339.9 409.8,339.2 414.8,336.4 C419.8,333.6 422.1,332.2 431.6,327.0 C441.1,321.8 464.9,308.7 471.6,305.0" fill="none" stroke="#2b2b2b" stroke-width="0.6" />
<line x1="281.7" y1="414.2" x2="305.0" y2="400.0" stroke="#3a3a3a" stroke-width="1.7" />
<line x1="282.2" y1="413.9" x2="304.5" y2="400.3" stroke="#bbb" stroke-width="0.6" stroke-dasharray="0.8 0.8"/>
<line x1="338.3" y1="377.0" x2="355.0" y2="367.5" stroke="#2b2b2b" stroke-width="1.03" />
<line x1="422.5" y1="326.0" x2="452.5" y2="307.0" stroke="#2b2b2b" stroke-width="1.03" />
<line x1="315.5" y1="356.0" x2="447.5" y2="279.2" stroke="#2b2b2b" stroke-width="1.03" stroke-dasharray="2.8 1.7" stroke-linecap="butt"/>
<line x1="263.7" y1="385.8" x2="274.9" y2="380.4" stroke="#2b2b2b" stroke-width="1.03" stroke-dasharray="2.8 1.7" stroke-linecap="butt"/>
<path d="M263.7,397.5 L302.4,376.5 L345.0,352.8 L465.0,282.5" fill="none" stroke="#2b2b2b" stroke-width="1.03" stroke-dasharray="2.8 1.7" stroke-linecap="butt"/>
<line x1="263.7" y1="376.7" x2="263.7" y2="404.7" stroke="#2b2b2b" stroke-width="1.03" stroke-dasharray="2.8 1.7" stroke-linecap="butt"/>
<line x1="274.9" y1="380.4" x2="274.9" y2="399.7" stroke="#2b2b2b" stroke-width="1.03" stroke-dasharray="2.8 1.7" stroke-linecap="butt"/>
<line x1="315.4" y1="346.0" x2="315.4" y2="379.2" stroke="#2b2b2b" stroke-width="1.03" stroke-dasharray="2.8 1.7" stroke-linecap="butt"/>
<line x1="328.7" y1="348.3" x2="328.7" y2="370.0" stroke="#2b2b2b" stroke-width="1.03" stroke-dasharray="2.8 1.7" stroke-linecap="butt"/>
<line x1="373.3" y1="321.0" x2="373.3" y2="345.0" stroke="#2b2b2b" stroke-width="1.03" stroke-dasharray="2.8 1.7" stroke-linecap="butt"/>
<line x1="387.0" y1="313.0" x2="387.0" y2="335.8" stroke="#2b2b2b" stroke-width="1.03" stroke-dasharray="2.8 1.7" stroke-linecap="butt"/>
<line x1="432.5" y1="287.5" x2="432.5" y2="313.0" stroke="#2b2b2b" stroke-width="1.03" stroke-dasharray="2.8 1.7" stroke-linecap="butt"/>
<line x1="447.5" y1="279.2" x2="447.5" y2="302.0" stroke="#2b2b2b" stroke-width="1.03" stroke-dasharray="2.8 1.7" stroke-linecap="butt"/>
<line x1="283.6" y1="388.3" x2="291.0" y2="393.0" stroke="#2b2b2b" stroke-width="0.92" stroke-dasharray="2 1.2" stroke-linecap="butt"/>
<line x1="302.8" y1="376.5" x2="308.4" y2="380.0" stroke="#2b2b2b" stroke-width="0.92" stroke-dasharray="2 1.2" stroke-linecap="butt"/>
<line x1="321.6" y1="365.4" x2="330.2" y2="371.4" stroke="#2b2b2b" stroke-width="0.92" stroke-dasharray="2 1.2" stroke-linecap="butt"/>
<line x1="343.0" y1="353.0" x2="349.0" y2="356.4" stroke="#2b2b2b" stroke-width="0.92" stroke-dasharray="2 1.2" stroke-linecap="butt"/>
<line x1="360.0" y1="343.0" x2="367.0" y2="347.5" stroke="#2b2b2b" stroke-width="0.92" stroke-dasharray="2 1.2" stroke-linecap="butt"/>
<line x1="378.0" y1="332.5" x2="385.0" y2="337.0" stroke="#2b2b2b" stroke-width="0.92" stroke-dasharray="2 1.2" stroke-linecap="butt"/>
<line x1="420.0" y1="308.0" x2="427.0" y2="312.5" stroke="#2b2b2b" stroke-width="0.92" stroke-dasharray="2 1.2" stroke-linecap="butt"/>
<line x1="436.0" y1="298.5" x2="443.0" y2="303.0" stroke="#2b2b2b" stroke-width="0.92" stroke-dasharray="2 1.2" stroke-linecap="butt"/>
<line x1="463.0" y1="281.5" x2="468.3" y2="284.4" stroke="#2b2b2b" stroke-width="0.92" stroke-dasharray="2 1.2" stroke-linecap="butt"/>
<ellipse cx="311.6" cy="384.6" rx="3.5" ry="2.0" transform="rotate(-29 311.6 384.6)" fill="#ccc" stroke="#1a1a1a" stroke-width="1.15"/>
<ellipse cx="312.1" cy="384.8" rx="2.0" ry="1.1" transform="rotate(-29 311.6 384.6)" fill="#222"/>
<ellipse cx="329.3" cy="374.2" rx="3.5" ry="2.0" transform="rotate(-29 329.3 374.2)" fill="#ccc" stroke="#1a1a1a" stroke-width="1.15"/>
<ellipse cx="329.8" cy="374.4" rx="2.0" ry="1.1" transform="rotate(-29 329.3 374.2)" fill="#222"/>
<ellipse cx="370.5" cy="350.0" rx="3.5" ry="2.0" transform="rotate(-29 370.5 350.0)" fill="#ccc" stroke="#1a1a1a" stroke-width="1.15"/>
<ellipse cx="371.0" cy="350.2" rx="2.0" ry="1.1" transform="rotate(-29 370.5 350.0)" fill="#222"/>
<ellipse cx="388.6" cy="339.0" rx="3.5" ry="2.0" transform="rotate(-29 388.6 339.0)" fill="#ccc" stroke="#1a1a1a" stroke-width="1.15"/>
<ellipse cx="389.1" cy="339.2" rx="2.0" ry="1.1" transform="rotate(-29 388.6 339.0)" fill="#222"/>
<ellipse cx="446.7" cy="305.0" rx="3.5" ry="2.0" transform="rotate(-29 446.7 305.0)" fill="#ccc" stroke="#1a1a1a" stroke-width="1.15"/>
<ellipse cx="447.2" cy="305.2" rx="2.0" ry="1.1" transform="rotate(-29 446.7 305.0)" fill="#222"/>
<line x1="423.5" y1="319.6" x2="436.0" y2="312.4" stroke="#1e1e1e" stroke-width="2.6" stroke-linecap="butt"/>
<line x1="425.0" y1="318.6" x2="434.5" y2="313.2" stroke="#ddd" stroke-width="1.03" stroke-dasharray="2 1.5" stroke-linecap="butt"/>
<ellipse cx="429.8" cy="315.4" rx="3.2" ry="1.7" transform="rotate(-29 429.8 315.4)" fill="#eee" stroke="#1a1a1a" stroke-width="1.03"/>
<line x1="421.5" y1="322.6" x2="438.5" y2="313.0" stroke="#2b2b2b" stroke-width="0.92" />
<path d="M288.7,395.6 C289.0,395.0 289.5,392.8 290.5,392.0 C291.5,391.2 293.2,390.7 294.5,390.6 C295.8,390.5 297.2,390.8 298.0,391.2 C298.8,391.6 299.0,392.7 299.2,393.0" fill="none" stroke="#2b2b2b" stroke-width="1.15" />
<path d="M289.0,395.6 C288.9,396.1 288.3,397.7 288.6,398.5 C288.9,399.3 289.9,400.2 291.0,400.5 C292.1,400.8 294.6,400.2 295.3,400.2" fill="none" stroke="#2b2b2b" stroke-width="1.15" />
<line x1="251.5" y1="397.8" x2="261.7" y2="404.7" stroke="#2b2b2b" stroke-width="0.92" />
</svg>
</body></html>
